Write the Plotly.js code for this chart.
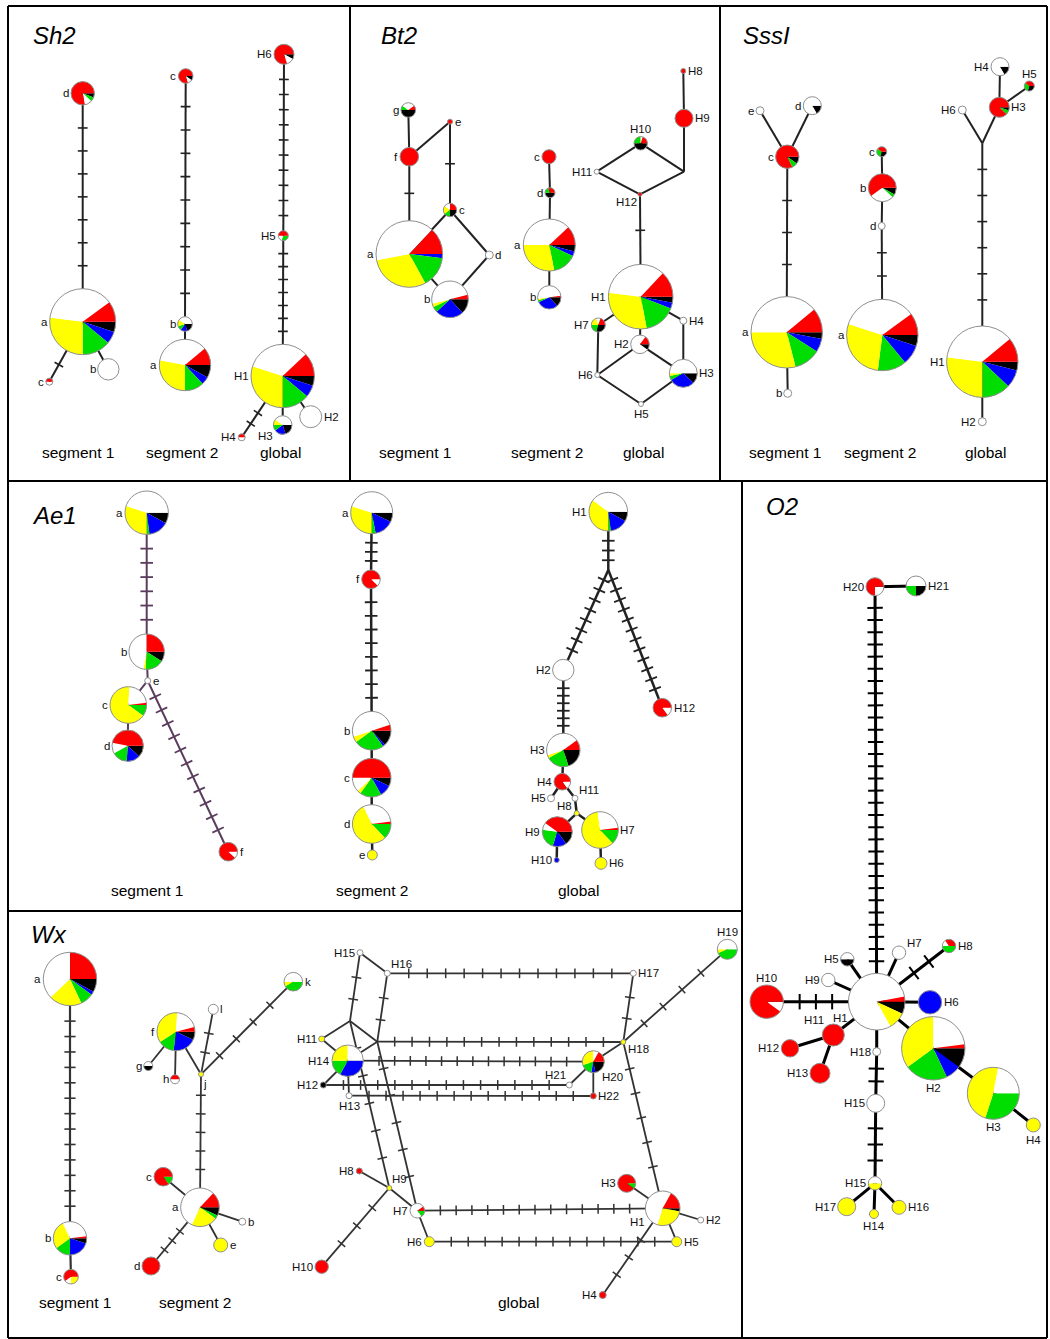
<!DOCTYPE html>
<html><head><meta charset="utf-8">
<script src="https://cdn.plot.ly/plotly-3.0.1.min.js"></script>
<style>html,body{margin:0;padding:0;background:#fff}</style>
</head><body><div id="chart" style="width:1050px;height:1339px"></div>
<script>
// Node record: [name, x, y, radius, red, white, yellow, green, blue, black]
// Edge record: [from, to, mutation steps]
// ---- Sh2 ----
const sh2_s1_nodes = [
 ['d',82.7,93.3,11.7, .78,.10,0,.06,0,.06],
 ['a',82.7,321.7,33, .10,.38,.27,.14,.06,.05],
 ['b',108.3,369.3,10.7, 0,1,0,0,0,0],
 ['c',49.3,381.7,3.5, .5,.5,0,0,0,0]];
const sh2_s1_edges = [['d','a',7],['a','c',1],['a','b',0]];
const sh2_s1_labelAt = [180,180,180,180];

const sh2_s2_nodes = [
 ['c',185.7,76,7.3, .8,.1,0,0,0,.1],
 ['b',185,324,7.3, 0,.4,.15,.1,.15,.2],
 ['a',185,365,25.7, .11,.36,.28,.12,.05,.08]];
const sh2_s2_edges = [['c','b',9],['b','a',0]];
const sh2_s2_labelAt = [180,180,180];

const sh2_gl_nodes = [
 ['H6',284,54.3,10, .8,.12,0,0,0,.08],
 ['H5',283.3,235.7,5, .5,.2,0,.3,0,0],
 ['H1',282.7,376,31.7, .12,.33,.30,.14,.06,.05],
 ['H2',310.7,416.7,11, 0,1,0,0,0,0],
 ['H3',282.7,425,9.3, 0,.4,.1,.1,.2,.2],
 ['H4',241.7,437.3,3.5, .5,.5,0,0,0,0]];
const sh2_gl_edges = [['H6','H5',10],['H5','H1',7],['H1','H4',2],['H1','H3',0],['H1','H2',0]];
const sh2_gl_labelAt = [180,180,180,0,150,180];

// ---- Bt2 ----
const bt2_s1_nodes = [
 ['g',408.3,110,7.3, .1,.3,0,.1,0,.5],
 ['e',450,121.7,2.5, 1,0,0,0,0,0],
 ['f',409.3,156.7,9.3, 1,0,0,0,0,0],
 ['c',450,210,6.7, .25,.15,.2,.15,0,.25],
 ['d',489.3,255,4, 0,1,0,0,0,0],
 ['a',409.3,254,33.3, .13,.40,.30,.15,.02,0],
 ['b',450,299.3,18.3, .04,.5,.03,.05,.25,.13]];
const bt2_s1_edges = [['g','f',0],['f','a',1],['f','e',0],['e','c',1],['c','a',0],['c','d',0],['d','b',0],['a','b',0]];
const bt2_s1_labelAt = [180,0,180,0,0,180,180];

const bt2_s2_nodes = [
 ['c',549,156.7,7, 1,0,0,0,0,0],
 ['d',550,192.7,5, .3,0,0,.2,0,.5],
 ['a',549.3,245,26, .12,.38,.28,.15,.03,.04],
 ['b',549.3,297.3,11.7, .02,.5,.02,.03,.3,.13]];
const bt2_s2_edges = [['c','d',0],['d','a',0],['a','b',0]];
const bt2_s2_labelAt = [180,180,180,180];

const bt2_gl_nodes = [
 ['H8',683.3,71,2.5, 1,0,0,0,0,0],
 ['H9',684,118.3,9, 1,0,0,0,0,0],
 ['H10',640.7,143.3,6.7, .2,.05,0,.25,0,.5],
 ['H11',596.7,171.7,2.5, 0,1,0,0,0,0],
 ['_1',684,171.7,0, 0,0,0,0,0,0],
 ['H12',640,194.3,2, 1,0,0,0,0,0],
 ['H1',640.7,296.7,32.3, .13,.35,.30,.16,.03,.03],
 ['H4',683.3,320.7,3.5, 0,1,0,0,0,0],
 ['H7',598.3,325,7, .2,.1,.2,.2,0,.3],
 ['H2',640,344.3,9.3, .15,.75,0,0,0,.1],
 ['H3',683.3,373.3,14, 0,.5,.03,.05,.3,.12],
 ['H6',597.3,375,2.5, 0,1,0,0,0,0],
 ['H5',641,404,2.5, 0,1,0,0,0,0]];
const bt2_gl_edges = [['H8','H9',0],['H9','_1',0],['_1','H10',0],['_1','H12',0],['H10','H11',0],['H11','H12',0],
 ['H12','H1',1],['H1','H7',0],['H1','H4',0],['H1','H2',0],['H4','H3',0],['H7','H6',0],['H6','H2',0],['H2','H3',0],['H6','H5',0],['H5','H3',0]];
const bt2_gl_labelAt = [0,0,270,180,0,150,180,0,180,180,0,180,90];

// ---- SssI ----
const sssi_s1_nodes = [
 ['e',760,110.7,4, 0,1,0,0,0,0],
 ['d',812.3,105.7,9, 0,.83,0,0,0,.17],
 ['c',787.3,156.7,11.7, .82,0,0,.08,0,.1],
 ['a',786.7,332.3,35.7, .11,.39,.29,.12,.06,.03],
 ['b',787.7,393.3,4, 0,1,0,0,0,0]];
const sssi_s1_edges = [['c','e',0],['c','d',0],['c','a',3],['a','b',0]];
const sssi_s1_labelAt = [180,180,180,180,180];

const sssi_s2_nodes = [
 ['c',881.7,151.7,5, .4,0,0,.3,0,.3],
 ['b',882.3,187.7,14, .6,.28,0,.04,0,.08],
 ['d',881.7,226,3.5, 0,1,0,0,0,0],
 ['a',882.3,335,35.7, .1,.35,.28,.13,.09,.05]];
const sssi_s2_edges = [['c','b',0],['b','d',0],['d','a',2]];
const sssi_s2_labelAt = [180,180,180,180];

const sssi_gl_nodes = [
 ['H4',1000,66.7,9, 0,.83,0,0,0,.17],
 ['H5',1029.3,86,5, .4,0,0,.3,0,.3],
 ['H3',999.3,107.3,10, .88,0,0,.07,0,.05],
 ['H6',962.3,110,4, 0,1,0,0,0,0],
 ['_1',982.3,143.3,0, 0,0,0,0,0,0],
 ['H1',982.3,361.7,35.7, .11,.37,.27,.13,.08,.04],
 ['H2',982.3,421.7,4, 0,1,0,0,0,0]];
const sssi_gl_edges = [['H4','H3',0],['H3','H5',0],['H3','_1',0],['H6','_1',0],['_1','H1',6],['H1','H2',0]];
const sssi_gl_labelAt = [180,270,0,180,0,180,180];

// ---- Ae1 ----
const ae1_s1_nodes = [
 ['a',146.7,512.7,21.7, 0,.45,.3,.02,.15,.08],
 ['b',146.7,651.7,17.7, .25,.47,.02,.17,0,.09],
 ['e',147.7,680.7,3, 0,1,0,0,0,0],
 ['c',128.3,705,18.3, .02,.22,.66,.1,0,0],
 ['d',127.7,745.7,15.7, .47,.11,0,.16,.14,.12],
 ['f',228.3,851.7,9.3, .88,.12,0,0,0,0]];
const ae1_s1_edges = [['a','b',6],['b','e',0],['e','c',0],['c','d',0],['e','f',11]];
const ae1_s1_labelAt = [180,180,0,180,180,0];

const ae1_s2_nodes = [
 ['a',371.7,512.7,21, 0,.45,.3,.03,.15,.07],
 ['f',371,579.3,9.3, .88,.12,0,0,0,0],
 ['b',371.7,730.7,19.3, .05,.5,.05,.25,.02,.13],
 ['c',371.7,777.7,19.3, .5,.12,.03,.18,.1,.07],
 ['d',371.7,824,19.3, .02,.3,.55,.13,0,0],
 ['e',372.3,855,5, 0,0,1,0,0,0]];
const ae1_s2_edges = [['a','f',3],['f','b',8],['b','c',0],['c','d',0],['d','e',0]];
const ae1_s2_labelAt = [180,180,180,180,180,180];

const ae1_gl_nodes = [
 ['H1',608.3,511.7,19.3, 0,.4,.35,.02,.15,.08],
 ['_1',608.3,570,0, 0,0,0,0,0,0],
 ['H2',563.3,670,10.7, 0,1,0,0,0,0],
 ['H12',662.3,707.7,9.3, .85,.15,0,0,0,0],
 ['H3',563.3,750,16.7, .1,.45,.03,.22,0,.2],
 ['H4',562.3,781.7,8.3, .85,.15,0,0,0,0],
 ['H5',551,798.3,3.5, 0,1,0,0,0,0],
 ['H11',575,798.3,3, 0,1,0,0,0,0],
 ['H8',576.7,813.3,2.5, 0,0,1,0,0,0],
 ['H9',557.3,831.7,15, .4,.08,0,.22,.15,.15],
 ['H10',556.7,860,2.5, 0,0,0,0,1,0],
 ['H7',600,830,18.3, .02,.25,.6,.13,0,0],
 ['H6',601,863.3,6, 0,0,1,0,0,0]];
const ae1_gl_edges = [['H1','_1',3],['_1','H2',8],['_1','H12',12],['H2','H3',6],['H3','H4',0],['H4','H5',0],['H4','H11',0],
 ['H11','H8',0],['H8','H9',0],['H8','H7',0],['H9','H10',0],['H7','H6',0]];
const ae1_gl_labelAt = [180,0,180,0,180,180,180,330,200,180,180,0,0];

// ---- O2 ----
const o2_nodes = [
 ['H20',875,586.7,9, .75,.25,0,0,0,0],
 ['H21',916,586,10, 0,.5,0,.25,0,.25],
 ['H1',876.7,1001.7,28.3, .03,.8,.1,0,0,.07],
 ['H5',847.3,959.3,6.7, 0,.5,0,0,0,.5],
 ['H7',899,952.7,6.7, 0,1,0,0,0,0],
 ['H8',949,946,6.7, .35,.15,0,.5,0,0],
 ['H9',828.3,980,6.7, 0,1,0,0,0,0],
 ['H10',766.7,1001.7,16.7, .9,.1,0,0,0,0],
 ['H6',930,1002.3,11.7, 0,0,0,0,1,0],
 ['H11',833.3,1035,11, 1,0,0,0,0,0],
 ['H12',790,1048.3,8.7, 1,0,0,0,0,0],
 ['H13',820,1073.3,10, 1,0,0,0,0,0],
 ['H18',876.7,1051.7,4, 0,1,0,0,0,0],
 ['H2',933.3,1048.3,31.7, .02,.23,.35,.22,.08,.1],
 ['H3',993.3,1093.3,26, 0,.22,.48,.3,0,0],
 ['H4',1033.3,1125,7, 0,0,1,0,0,0],
 ['H15',875.7,1103.3,9, 0,1,0,0,0,0],
 ['H15b',875,1183.3,6.7, 0,.5,.5,0,0,0],
 ['H17',846.7,1206.7,9, 0,0,1,0,0,0],
 ['H14',874,1214,4.5, 0,0,1,0,0,0],
 ['H16',899,1207.3,7, 0,0,1,0,0,0]];
const o2_edges = [['H20','H21',0],['H20','H1',30],['H1','H5',0],['H1','H7',0],['H1','H8',2],['H1','H9',0],['H1','H10',3],
 ['H1','H6',0],['H1','H11',0],['H11','H12',0],['H11','H13',0],['H1','H18',0],['H18','H15',2],['H15','H15b',3],
 ['H1','H2',0],['H2','H3',0],['H3','H4',0],['H15b','H17',0],['H15b','H14',0],['H15b','H16',0]];
const o2_labelAt = [180,0,160,180,330,0,180,270,0,225,180,180,180,90,90,90,180,185,180,90,0];

// ---- Wx ----
const wx_s1_nodes = [
 ['a',70,979,26.7, .25,.37,.2,.08,.02,.08],
 ['b',70,1238.3,16.7, .02,.3,.28,.15,.2,.05],
 ['c',71,1276.7,7.3, .6,.15,.25,0,0,0]];
const wx_s1_edges = [['a','b',13],['b','c',0]];
const wx_s1_labelAt = [180,180,180];

const wx_s2_nodes = [
 ['f',176,1031.7,19, .04,.2,.35,.14,.2,.07],
 ['g',148.3,1066,4.5, 0,.5,0,0,0,.5],
 ['h',175,1079.3,4.5, .5,.5,0,0,0,0],
 ['j',201,1074.3,2.5, 0,0,1,0,0,0],
 ['l',213.3,1009.3,5, 0,1,0,0,0,0],
 ['k',293.3,981.7,9.3, 0,.5,.08,.42,0,0],
 ['a',200,1207.3,19.3, .13,.55,.22,.03,0,.07],
 ['c',163.3,1176.7,9.3, .85,0,0,.15,0,0],
 ['b',242.3,1221.7,3.5, 0,1,0,0,0,0],
 ['e',220.7,1245,7, 0,0,1,0,0,0],
 ['d',151,1266,9, 1,0,0,0,0,0]];
const wx_s2_edges = [['f','g',0],['f','h',0],['f','j',0],['j','l',2],['j','k',4],['j','a',5],['a','c',0],['a','b',0],['a','e',0],['a','d',3]];
const wx_s2_labelAt = [180,180,180,60,0,0,180,180,0,0,180];

const wx_gl_nodes = [
 ['H15',360,952.7,3, 0,1,0,0,0,0],
 ['H16',387.3,973.3,3, 0,1,0,0,0,0],
 ['H17',633.3,973.3,3, 0,1,0,0,0,0],
 ['H19',727.3,949.3,10, 0,.5,.06,.44,0,0],
 ['_1',350,1021,0, 0,0,0,0,0,0],
 ['_2',377.3,1041.7,0, 0,0,0,0,0,0],
 ['H11',321.7,1039,3, 0,0,1,0,0,0],
 ['H14',347.7,1060.7,15.7, 0,.25,.25,.17,.33,0],
 ['H12',323.3,1085,3, 0,0,0,0,0,1],
 ['H13',349,1095.7,3, 0,1,0,0,0,0],
 ['H18',623.3,1042,2.5, 0,0,1,0,0,0],
 ['H20',593.3,1061.7,11, .17,.08,.3,.17,.06,.22],
 ['H21',569.3,1085,3, 0,1,0,0,0,0],
 ['H22',593.3,1096,3, 1,0,0,0,0,0],
 ['H8',359.3,1171,3, 1,0,0,0,0,0],
 ['H9',389.3,1188,2.5, 0,0,1,0,0,0],
 ['H7',417.3,1210.7,7.3, .1,.75,0,.15,0,0],
 ['H6',429.3,1241.7,5, 0,0,1,0,0,0],
 ['H10',321.7,1266.7,6.7, 1,0,0,0,0,0],
 ['H3',626.7,1183.3,9, .9,0,0,.1,0,0],
 ['H1',662.7,1208.3,17.3, .17,.53,.27,0,0,.03],
 ['H2',700.7,1220,3, 0,1,0,0,0,0],
 ['H5',676.7,1241.7,5, 0,0,1,0,0,0],
 ['H4',602.7,1295,3.5, 1,0,0,0,0,0]];
const wx_gl_edges = [['H15','H16',0],['H15','_1',2],['H16','_2',2],['_1','H11',0],['_1','_2',0],['H11','H14',0],['_2','H14',0],
 ['_1','H9',5],['_2','H7',5],['H16','H17',12],['_2','H18',13],['H14','H20',13],['H12','H21',13],['H13','H22',13],
 ['H12','H14',0],['H13','H14',0],['H21','H20',0],['H20','H22',0],['H20','H18',0],['H18','H19',4],['H17','H18',2],
 ['H18','H1',5],['H7','H1',13],['H6','H5',13],['H7','H6',0],['H1','H5',0],['H1','H2',0],['H1','H3',0],['H1','H4',3],
 ['H8','H9',0],['H9','H7',0],['H9','H10',3]];
const wx_gl_labelAt = [180,315,0,270,0,0,180,180,180,90,20,45,235,0,180,300,180,180,180,180,155,0,0,180];

// ---- panel titles and sub-network captions ----
const panelTitles = ['Sh2','Bt2','SssI','Ae1','O2','Wx'];
const panelTitleX = [31,379,741,30,764,29];
const panelTitleY = [35,35,35,515,506,934];
const captionText = ['segment 1','segment 2','global','segment 1','segment 2','global','segment 1','segment 2','global',
 'segment 1','segment 2','global','segment 1','segment 2','global'];
const captionX = [78,182,280,415,547,643,785,880,985,147,372,578,75,195,518];
const captionY = [452,452,452,452,452,452,452,452,452,890,890,890,1302,1302,1302];

// ---------------- drawing ----------------
const W = 1050, H = 1339;
const SLICE_COLORS = ['#ff0000','#ffffff','#ffff00','#00dd00','#0000ff','#000000'];
const SLICE_NAMES = ['red','white','yellow','green','blue','black'];
const lineTraces = [], tickTraces = [], pieTraces = [], shapes = [], annotations = [];

function addNetwork(nodes, edges, labelAt, st) {
  const pos = {};
  nodes.forEach(n => { pos[n[0]] = n; });
  const lx = [], ly = [], tx = [], ty = [], ta = [];
  edges.forEach(([a, b, m]) => {
    const A = pos[a], B = pos[b];
    lx.push(A[1], B[1], null); ly.push(A[2], B[2], null);
    const dx = B[1] - A[1], dy = B[2] - A[2], L = Math.hypot(dx, dy);
    const s0 = A[3], s1 = L - B[3];
    const ang = Math.atan2(dy, dx) * 180 / Math.PI;
    for (let i = 1; i <= m; i++) {
      const s = s0 + (s1 - s0) * i / (m + 1);
      tx.push(A[1] + dx / L * s); ty.push(A[2] + dy / L * s); ta.push(ang);
    }
  });
  lineTraces.push({type:'scatter', mode:'lines', x:lx, y:ly, line:{color:st.color, width:st.width},
    hoverinfo:'skip', showlegend:false});
  if (tx.length) tickTraces.push({type:'scatter', mode:'markers', x:tx, y:ty,
    marker:{symbol:'line-ns', size:st.tick, angle:ta, color:st.color, line:{color:st.color, width:st.tickw}},
    hoverinfo:'skip', showlegend:false});
  nodes.forEach((n, i) => {
    const name = n[0], cx = n[1], cy = n[2], r = n[3];
    if (r <= 0) return;
    const vals = n.slice(4, 10).slice().reverse();
    pieTraces.push({type:'pie', values:vals, labels:SLICE_NAMES.slice().reverse(),
      marker:{colors:SLICE_COLORS.slice().reverse(), line:{width:0}},
      sort:false, direction:'clockwise', rotation:90, textinfo:'none', hoverinfo:'skip', showlegend:false,
      domain:{x:[(cx - r) / W, (cx + r) / W], y:[1 - (cy + r) / H, 1 - (cy - r) / H]}});
    shapes.push({type:'circle', xref:'x', yref:'y', x0:cx - r, x1:cx + r, y0:cy - r, y1:cy + r,
      line:{color:'#8f8f8f', width:1}, layer:'above'});
    const th = labelAt[i] * Math.PI / 180, c = Math.cos(th), s = Math.sin(th);
    annotations.push({xref:'x', yref:'y', x:cx + (r + 2) * c, y:cy + (r + 1.5) * s,
      text:name.replace(/^(H\d+)b$/, '$1'), showarrow:false, borderpad:0, borderwidth:0,
      xanchor: c > 0.3 ? 'left' : (c < -0.3 ? 'right' : 'center'),
      yanchor: s > 0.3 ? 'top' : (s < -0.3 ? 'bottom' : 'middle'),
      font:{size:11.5, color:'#111', family:'Liberation Sans, Arial, sans-serif'}});
  });
}

const thin = {color:'#222', width:2, tick:7, tickw:1.6};
addNetwork(sh2_s1_nodes, sh2_s1_edges, sh2_s1_labelAt, thin);
addNetwork(sh2_s2_nodes, sh2_s2_edges, sh2_s2_labelAt, thin);
addNetwork(sh2_gl_nodes, sh2_gl_edges, sh2_gl_labelAt, thin);
addNetwork(bt2_s1_nodes, bt2_s1_edges, bt2_s1_labelAt, thin);
addNetwork(bt2_s2_nodes, bt2_s2_edges, bt2_s2_labelAt, thin);
addNetwork(bt2_gl_nodes, bt2_gl_edges, bt2_gl_labelAt, thin);
addNetwork(sssi_s1_nodes, sssi_s1_edges, sssi_s1_labelAt, thin);
addNetwork(sssi_s2_nodes, sssi_s2_edges, sssi_s2_labelAt, thin);
addNetwork(sssi_gl_nodes, sssi_gl_edges, sssi_gl_labelAt, thin);
addNetwork(ae1_s1_nodes, ae1_s1_edges, ae1_s1_labelAt, {color:'#5a3d5c', width:2, tick:9, tickw:1.8});
addNetwork(ae1_s2_nodes, ae1_s2_edges, ae1_s2_labelAt, {color:'#222', width:2.5, tick:9, tickw:1.8});
addNetwork(ae1_gl_nodes, ae1_gl_edges, ae1_gl_labelAt, {color:'#222', width:2.5, tick:9, tickw:1.8});
addNetwork(o2_nodes, o2_edges, o2_labelAt, {color:'#000', width:3, tick:11, tickw:2});
const wxs = {color:'#333', width:1.8, tick:7, tickw:1.5};
addNetwork(wx_s1_nodes, wx_s1_edges, wx_s1_labelAt, {color:'#333', width:2.2, tick:8, tickw:1.6});
addNetwork(wx_s2_nodes, wx_s2_edges, wx_s2_labelAt, wxs);
addNetwork(wx_gl_nodes, wx_gl_edges, wx_gl_labelAt, wxs);

// panel frames
const frame = (x0, y0, x1, y1) => shapes.push({type:'line', xref:'x', yref:'y', x0, y0, x1, y1,
  line:{color:'#000', width:2}, layer:'above'});
frame(8,6,1047,6); frame(8,6,8,1338); frame(1047,6,1047,1338); frame(8,1338,1047,1338);
frame(350,6,350,480); frame(720,6,720,480); frame(8,481,1047,481);
frame(742,481,742,1338); frame(8,911,742,911);

panelTitles.forEach((t, i) => annotations.push({xref:'x', yref:'y', x:panelTitleX[i], y:panelTitleY[i],
  text:'<i>' + t + '</i>', showarrow:false, xanchor:'left', yanchor:'middle',
  font:{size:24, color:'#000', family:'Liberation Sans, Arial, sans-serif'}}));
captionText.forEach((t, i) => annotations.push({xref:'x', yref:'y', x:captionX[i], y:captionY[i],
  text:t, showarrow:false, xanchor:'center', yanchor:'middle',
  font:{size:15.5, color:'#000', family:'Liberation Sans, Arial, sans-serif'}}));

const layout = {
  width:W, height:H, margin:{l:0, r:0, t:0, b:0}, paper_bgcolor:'#fff', plot_bgcolor:'#fff',
  xaxis:{range:[0, W], visible:false, fixedrange:true},
  yaxis:{range:[H, 0], visible:false, fixedrange:true},
  showlegend:false, hovermode:false, shapes, annotations
};
Plotly.newPlot('chart', [...lineTraces, ...tickTraces, ...pieTraces], layout, {staticPlot:true});
</script></body></html>
